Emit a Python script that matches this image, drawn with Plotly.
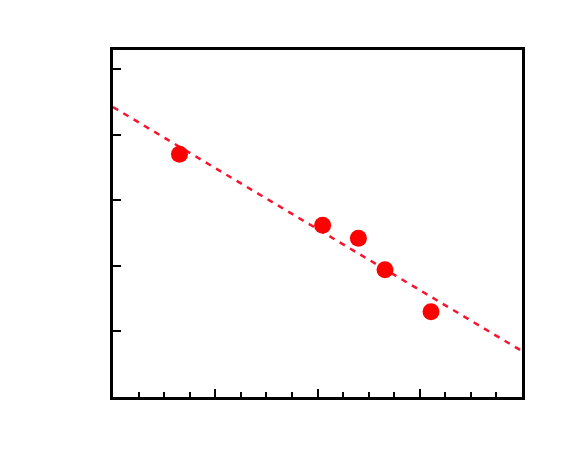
import plotly.graph_objects as go

# Data
x_pts = [0.65, 2.05, 2.40, 2.66, 3.11]
y_pts = [3.70, 2.62, 2.42, 1.94, 1.30]
fit_x = [0.0, 4.0]
fit_y = [4.42, 0.70]

fig = go.Figure()
fig.add_trace(go.Scatter(x=fit_x, y=fit_y, mode="lines",
                         line=dict(color="#f51530", width=2.5, dash="6px,6px"),
                         showlegend=False, hoverinfo="skip"))
fig.add_trace(go.Scatter(x=x_pts, y=y_pts, mode="markers",
                         marker=dict(color="#ff0000", size=17),
                         showlegend=False))

fig.update_layout(
    width=588, height=468,
    margin=dict(l=105, r=74, t=42, b=79),
    paper_bgcolor="white", plot_bgcolor="white",
    xaxis=dict(range=[0, 4], showgrid=False, zeroline=False,
               showline=True, linecolor="black", linewidth=3, mirror=True,
               ticks="inside", ticklen=8, tickwidth=2, tickcolor="black",
               dtick=1, tick0=0, showticklabels=False,
               minor=dict(ticks="inside", ticklen=5, tickwidth=2, dtick=0.25, tickcolor="black", showgrid=False)),
    yaxis=dict(range=[0, 5.29], showgrid=False, zeroline=False,
               showline=True, linecolor="black", linewidth=3, mirror=True,
               ticks="inside", ticklen=8, tickwidth=2, tickcolor="black",
               dtick=1, tick0=0, showticklabels=False),
)
fig.write_html("out.html")
